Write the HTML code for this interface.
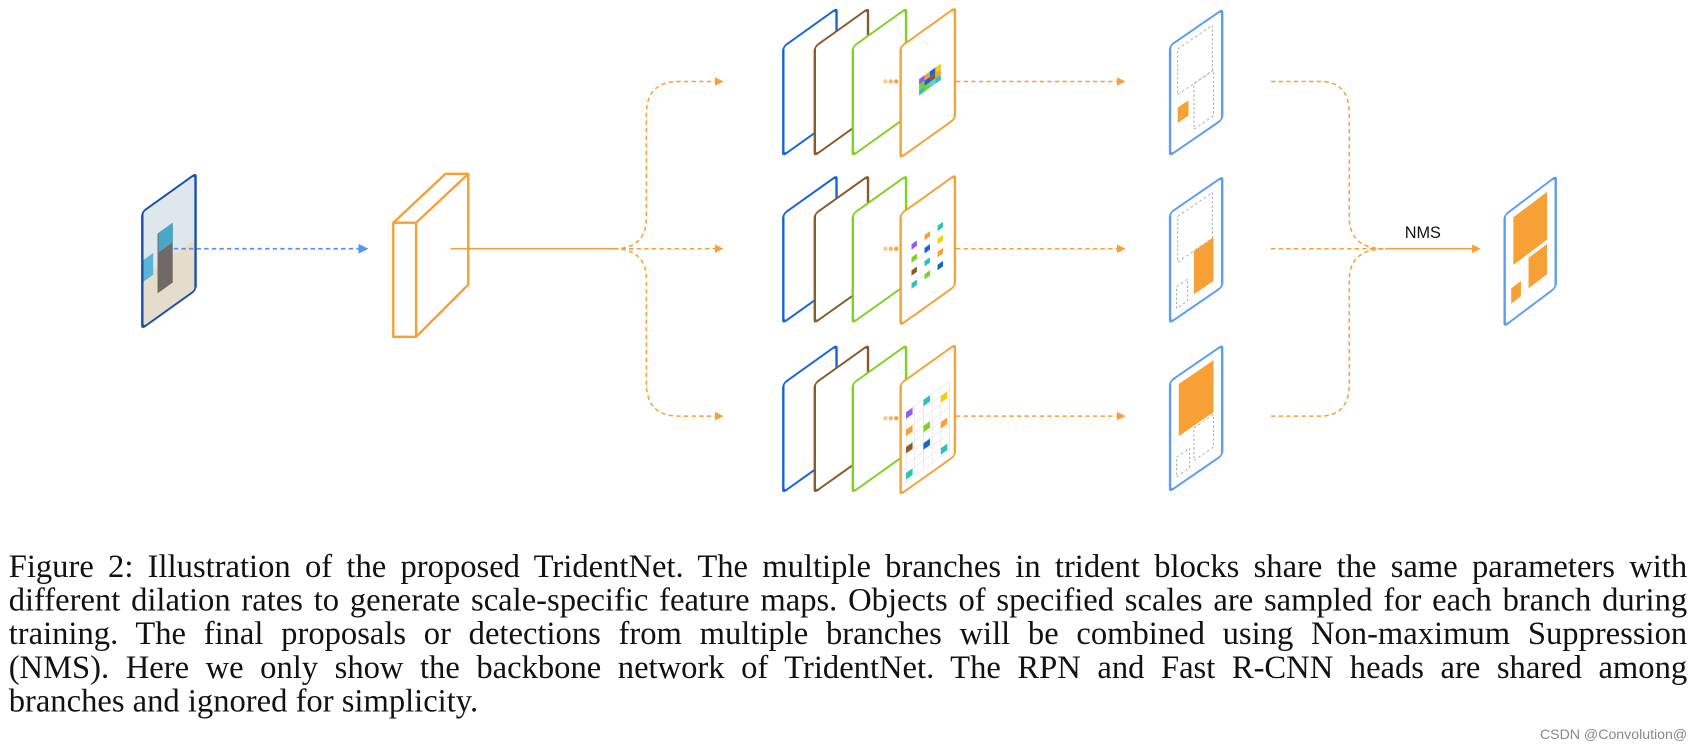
<!DOCTYPE html>
<html><head><meta charset="utf-8"><style>
html,body{margin:0;padding:0;background:#fff;width:1697px;height:752px;overflow:hidden}
#w{position:absolute;left:0;top:0;width:1562px;height:692px;transform:scale(1.0864);transform-origin:0 0}
.cap{position:absolute;left:8px;width:1545px;font-family:"Liberation Serif",serif;font-size:30px;line-height:31px;color:#111;text-align:justify;text-align-last:justify;white-space:nowrap}
.last{text-align-last:left}
</style></head><body><div id="w">
<svg width="1562" height="692" viewBox="0 0 1562 692" style="position:absolute;left:0;top:0">
<defs>
<marker id="ao" markerWidth="8" markerHeight="8" refX="7" refY="4" orient="auto" markerUnits="userSpaceOnUse"><path d="M0,0 L8,4 L0,8z" fill="#f7a035"/></marker>
<marker id="ab" markerWidth="9" markerHeight="9" refX="8" refY="4.5" orient="auto" markerUnits="userSpaceOnUse"><path d="M0,0 L9,4.5 L0,9z" fill="#5b8ff9"/></marker>
<g id="stack">
 <g transform="translate(721,43) skewY(-35.5)"><rect width="49" height="100" rx="3" fill="#fff" stroke="#1565d8" stroke-width="2.2"/></g>
 <g transform="translate(750,43) skewY(-35.5)"><rect width="49" height="100" rx="3" fill="#fff" stroke="#8b5a2b" stroke-width="2.2"/></g>
 <g transform="translate(785,43) skewY(-35.5)"><rect width="49" height="100" rx="3" fill="#fff" stroke="#7ed321" stroke-width="2.2"/></g>
 <circle cx="815" cy="75" r="2" fill="#fbc98a"/><circle cx="820" cy="75" r="2" fill="#f9b560"/><circle cx="825" cy="75" r="2" fill="#f7a035"/>
 <g transform="translate(829,43) skewY(-35.5)"><rect width="50" height="102" rx="3" fill="#fff" stroke="#f7a035" stroke-width="2.2"/></g>
</g>
</defs>
<g transform="translate(131,195) skewY(-35.5)">
 <rect width="49" height="107" fill="#dde7ec"/>
 <rect y="60" width="49" height="47" fill="#e6dccc"/>
 <rect x="14" y="30" width="14" height="55" fill="#6f6a66"/>
 <rect x="15" y="30" width="13" height="18" fill="#4aa7c8"/>
 <rect x="0" y="45" width="10" height="20" fill="#5db3d6"/>
 <rect width="49" height="107" rx="3" fill="none" stroke="#1a4fa8" stroke-width="2.2"/>
</g>
<line x1="160" y1="229" x2="338" y2="229" stroke="#5b8ff9" stroke-width="1.6" stroke-dasharray="4,3" marker-end="url(#ab)"/>
<g fill="none" stroke="#f7a035" stroke-width="2.2" stroke-linejoin="round">
<path d="M362,205 L410,160 L431,160 L431,262 L383,310 L362,310 Z"/>
<path d="M362,205 L383,205 L431,160 M383,205 L383,310"/>
</g>
<g fill="none" stroke="#f7a035" stroke-width="1.4">
<line x1="415" y1="229" x2="565" y2="229"/>
<g stroke-dasharray="4,3">
<path d="M565,229 Q595,229 595,200 L595,105 Q595,75 625,75 L665,75" marker-end="url(#ao)"/>
<path d="M565,229 L665,229" marker-end="url(#ao)"/>
<path d="M565,229 Q595,229 595,258 L595,353 Q595,383 625,383 L665,383" marker-end="url(#ao)"/>
<line x1="880" y1="75" x2="1035" y2="75" marker-end="url(#ao)"/>
<line x1="880" y1="229" x2="1035" y2="229" marker-end="url(#ao)"/>
<line x1="880" y1="383" x2="1035" y2="383" marker-end="url(#ao)"/>
<path d="M1170,75 L1215,75 Q1242,75 1242,105 L1242,200 Q1242,229 1275,229"/>
<path d="M1170,229 L1275,229"/>
<path d="M1170,383 L1215,383 Q1242,383 1242,353 L1242,258 Q1242,229 1275,229"/>
</g>
<line x1="1275" y1="229" x2="1362" y2="229" marker-end="url(#ao)"/>
</g>
<text x="1293" y="219" font-family="Liberation Sans,sans-serif" font-size="15" fill="#111">NMS</text>
<use href="#stack"/>
<use href="#stack" transform="translate(0,154)"/>
<use href="#stack" transform="translate(0,310)"/>
<g transform="translate(829,43) skewY(-35.5)">
 <rect x="17" y="42" width="5" height="5" fill="#8b5cf6"/><rect x="22" y="42" width="5" height="5" fill="#f7a035"/><rect x="27" y="42" width="5" height="5" fill="#1565d8"/><rect x="32" y="42" width="5" height="5" fill="#f5d000"/>
 <rect x="17" y="47" width="5" height="5" fill="#7ed321"/><rect x="22" y="47" width="5" height="5" fill="#1565d8"/><rect x="27" y="47" width="5" height="5" fill="#8b5a2b"/><rect x="32" y="47" width="5" height="5" fill="#f7a035"/>
 <rect x="17" y="52" width="5" height="5" fill="#2bc4b4"/><rect x="22" y="52" width="5" height="5" fill="#7ed321"/><rect x="27" y="52" width="5" height="5" fill="#5bd0f0"/><rect x="32" y="52" width="5" height="5" fill="#2bc4b4"/>
</g>
<g transform="translate(829,197) skewY(-35.5)">
 <rect x="10" y="35" width="5" height="5" fill="#8b5cf6"/><rect x="22" y="35" width="5" height="5" fill="#f7a035"/><rect x="34" y="35" width="5" height="5" fill="#2bc4b4"/>
 <rect x="10" y="47" width="5" height="5" fill="#7ed321"/><rect x="22" y="47" width="5" height="5" fill="#1565d8"/><rect x="34" y="47" width="5" height="5" fill="#f5d000"/>
 <rect x="10" y="59" width="5" height="5" fill="#8b5a2b"/><rect x="22" y="59" width="5" height="5" fill="#2bc4b4"/><rect x="34" y="59" width="5" height="5" fill="#f7a035"/>
 <rect x="10" y="71" width="5" height="5" fill="#2bc4b4"/><rect x="22" y="71" width="5" height="5" fill="#7ed321"/><rect x="34" y="71" width="5" height="5" fill="#1565d8"/>
</g>
<g transform="translate(829,353) skewY(-35.5)">
 <g stroke="#e4e4e4" stroke-width="0.7"><path d="M5,30 H45 M5,38 H45 M5,46 H45 M5,54 H45 M5,62 H45 M5,70 H45 M5,78 H45 M5,86 H45 M5,94 H45 M5,30 V94 M13,30 V94 M21,30 V94 M29,30 V94 M37,30 V94 M45,30 V94"/></g>
 <rect x="5" y="30" width="6" height="6" fill="#8b5cf6"/><rect x="21" y="30" width="6" height="6" fill="#2bc4b4"/><rect x="37" y="38" width="6" height="6" fill="#f5d000"/>
 <rect x="5" y="46" width="6" height="6" fill="#f7a035"/><rect x="21" y="54" width="6" height="6" fill="#7ed321"/><rect x="37" y="62" width="6" height="6" fill="#f7a035"/>
 <rect x="5" y="62" width="6" height="6" fill="#8b5a2b"/><rect x="21" y="70" width="6" height="6" fill="#1565d8"/><rect x="37" y="86" width="6" height="6" fill="#2bc4b4"/>
 <rect x="5" y="86" width="6" height="6" fill="#2bc4b4"/>
</g>
<g transform="translate(1077,42) skewY(-34.5)">
 <rect width="48" height="101" rx="3" fill="#fff" stroke="#5b9cf5" stroke-width="2.2"/>
 <rect x="7" y="8" width="32" height="42" fill="none" stroke="#aaa" stroke-width="1" stroke-dasharray="2,2"/>
 <rect x="22" y="50" width="18" height="42" fill="none" stroke="#aaa" stroke-width="1" stroke-dasharray="2,2"/>
 <rect x="7" y="62" width="10" height="14" fill="#f7a035"/>
</g>
<g transform="translate(1077,196) skewY(-34.5)">
 <rect width="48" height="101" rx="3" fill="#fff" stroke="#5b9cf5" stroke-width="2.2"/>
 <rect x="7" y="8" width="32" height="42" fill="none" stroke="#aaa" stroke-width="1" stroke-dasharray="2,2"/>
 <rect x="22" y="50" width="18" height="40" fill="#f7a035"/>
 <rect x="6" y="72" width="10" height="20" fill="none" stroke="#aaa" stroke-width="1" stroke-dasharray="2,2"/>
</g>
<g transform="translate(1077,351) skewY(-34.5)">
 <rect width="48" height="101" rx="3" fill="#fff" stroke="#5b9cf5" stroke-width="2.2"/>
 <rect x="8" y="8" width="32" height="48" fill="#f7a035"/>
 <rect x="22" y="58" width="18" height="30" fill="none" stroke="#aaa" stroke-width="1" stroke-dasharray="2,2"/>
 <rect x="6" y="74" width="12" height="18" fill="none" stroke="#aaa" stroke-width="1" stroke-dasharray="2,2"/>
</g>
<g transform="translate(1385,198) skewY(-37)">
 <rect width="47" height="102" rx="3" fill="#fff" stroke="#5b9cf5" stroke-width="2.2"/>
 <rect x="8" y="8" width="31" height="44" fill="#f7a035"/>
 <rect x="22" y="56" width="17" height="28" fill="#f7a035"/>
 <rect x="6" y="72" width="9" height="14" fill="#f7a035"/>
</g>
</svg>
<div class="cap" style="top:506px">Figure 2: Illustration of the proposed TridentNet. The multiple branches in trident blocks share the same parameters with</div>
<div class="cap" style="top:537px">different dilation rates to generate scale-specific feature maps. Objects of specified scales are sampled for each branch during</div>
<div class="cap" style="top:568px">training. The final proposals or detections from multiple branches will be combined using Non-maximum Suppression</div>
<div class="cap" style="top:599px">(NMS). Here we only show the backbone network of TridentNet. The RPN and Fast R-CNN heads are shared among</div>
<div class="cap last" style="top:630px">branches and ignored for simplicity.</div>
<div style="position:absolute;right:9px;top:668px;font-family:'Liberation Sans',sans-serif;font-size:13px;color:#888;white-space:nowrap">CSDN @Convolution@</div>
</div></body></html>
